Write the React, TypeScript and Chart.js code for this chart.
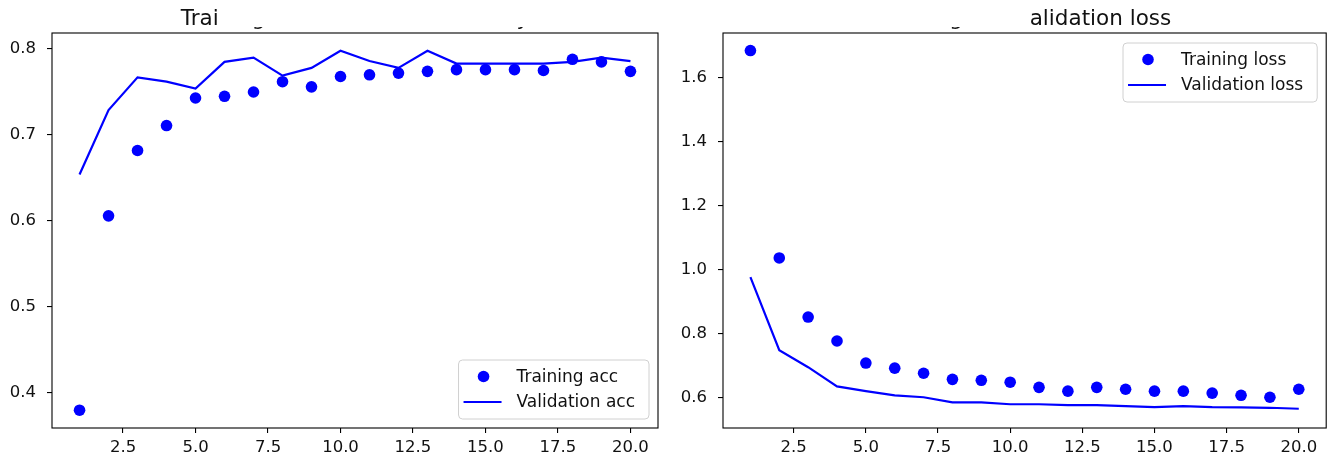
import React, { useEffect, useRef } from 'react';
import { Chart, registerables } from 'chart.js';

Chart.register(...registerables);

// ---------- data ----------
const epochs = [1, 2, 3, 4, 5, 6, 7, 8, 9, 10, 11, 12, 13, 14, 15, 16, 17, 18, 19, 20];

const trainingAcc = [0.380, 0.606, 0.682, 0.711, 0.743, 0.745, 0.750, 0.762, 0.756, 0.768,
  0.770, 0.772, 0.774, 0.776, 0.776, 0.776, 0.775, 0.788, 0.785, 0.774];
const validationAcc = [0.654, 0.729, 0.767, 0.762, 0.754, 0.785, 0.790, 0.769, 0.778, 0.798,
  0.786, 0.778, 0.798, 0.783, 0.783, 0.783, 0.783, 0.785, 0.790, 0.786];

const trainingLoss = [1.686, 1.037, 0.852, 0.777, 0.708, 0.692, 0.676, 0.657, 0.654, 0.648,
  0.632, 0.620, 0.632, 0.626, 0.620, 0.620, 0.614, 0.607, 0.601, 0.626];
const validationLoss = [0.977, 0.748, 0.695, 0.635, 0.620, 0.607, 0.601, 0.585, 0.585, 0.579,
  0.579, 0.576, 0.576, 0.573, 0.570, 0.573, 0.570, 0.569, 0.568, 0.565];

const epochTicks = [2.5, 5, 7.5, 10, 12.5, 15, 17.5, 20];
const accTicks = [0.4, 0.5, 0.6, 0.7, 0.8];
const lossTicks = [0.6, 0.8, 1.0, 1.2, 1.4, 1.6];

const accTitle = 'Training and validation accuracy';
const lossTitle = 'Training and validation loss';
const accLabels = ['Training acc', 'Validation acc'];
const lossLabels = ['Training loss', 'Validation loss'];

// ---------- style ----------
const FONT = '"DejaVu Sans", "Liberation Sans", sans-serif';
const TICK_SIZE = 16.5;
const LEGEND_SIZE = 17;
const TITLE_SIZE = 21.5;
const BLUE = '#0000ff';
const W = 666;
const H = 464;

const framePlugin = {
  id: 'mplFrame',
  afterDraw(chart: any) {
    const { ctx, chartArea: a } = chart;
    ctx.save();
    ctx.strokeStyle = '#000';
    ctx.lineWidth = 1.1;
    ctx.strokeRect(a.left, a.top, a.right - a.left, a.bottom - a.top);
    ctx.restore();
  },
};

const titlePlugin = {
  id: 'mplTitle',
  afterDraw(chart: any, _args: any, o: any) {
    const { ctx, chartArea: a } = chart;
    ctx.save();
    ctx.font = `${TITLE_SIZE}px ${FONT}`;
    ctx.fillStyle = '#111';
    ctx.textAlign = 'left';
    ctx.textBaseline = 'alphabetic';
    const w = ctx.measureText(o.text).width;
    const x0 = (a.left + a.right) / 2 - w / 2;
    ctx.fillText(o.text, x0, o.baseline);
    // part of the title is hidden behind a white patch in the reference
    ctx.fillStyle = '#fff';
    if (o.keepStart) {
      const cx = x0 + ctx.measureText(o.keepStart).width;
      ctx.fillRect(cx, 0, chart.width - cx, o.coverBottom);
    }
    if (o.hideStart) {
      const cx = x0 + ctx.measureText(o.hideStart).width;
      ctx.fillRect(0, 0, cx, o.coverBottom);
    }
    ctx.restore();
  },
};

const legendPlugin = {
  id: 'mplLegend',
  afterDraw(chart: any, _args: any, o: any) {
    const { ctx, chartArea: a } = chart;
    ctx.save();
    ctx.font = `${LEGEND_SIZE}px ${FONT}`;
    const tw = Math.max(...o.labels.map((l: string) => ctx.measureText(l).width));
    const bw = 58 + tw + 14;
    const bh = 59;
    const x0 = a.right - 9 - bw;
    const y0 = o.corner === 'upper' ? a.top + 10 : a.bottom - 9 - bh;
    ctx.beginPath();
    ctx.roundRect(x0, y0, bw, bh, 4);
    ctx.fillStyle = 'rgba(255,255,255,0.8)';
    ctx.fill();
    ctx.strokeStyle = '#d0d0d0';
    ctx.lineWidth = 1;
    ctx.stroke();
    const rows = [y0 + 16.5, y0 + 42];
    // dot entry
    ctx.fillStyle = BLUE;
    ctx.beginPath();
    ctx.arc(x0 + 25, rows[0], 5.8, 0, Math.PI * 2);
    ctx.fill();
    // line entry
    ctx.strokeStyle = BLUE;
    ctx.lineWidth = 2.2;
    ctx.beginPath();
    ctx.moveTo(x0 + 5, rows[1]);
    ctx.lineTo(x0 + 43, rows[1]);
    ctx.stroke();
    ctx.fillStyle = '#111';
    ctx.textAlign = 'left';
    ctx.textBaseline = 'middle';
    ctx.fillText(o.labels[0], x0 + 58, rows[0] + 1);
    ctx.fillText(o.labels[1], x0 + 58, rows[1] + 1);
    ctx.restore();
  },
};

function makeConfig(p: {
  train: number[]; val: number[]; labels: string[]; yTicks: number[];
  yMin: number; yMax: number; yWidth: number; padRight: number;
  title: string; keepStart?: string; hideStart?: string; corner: string;
}): any {
  const tickFont = { family: FONT, size: TICK_SIZE };
  return {
    type: 'scatter',
    data: {
      datasets: [
        {
          label: p.labels[0],
          data: epochs.map((e, i) => ({ x: e, y: p.train[i] })),
          showLine: false,
          pointRadius: 5.8,
          pointBorderWidth: 0,
          pointBackgroundColor: BLUE,
          pointBorderColor: BLUE,
        },
        {
          label: p.labels[1],
          data: epochs.map((e, i) => ({ x: e, y: p.val[i] })),
          showLine: true,
          pointRadius: 0,
          borderColor: BLUE,
          borderWidth: 2.2,
          tension: 0,
        },
      ],
    },
    options: {
      responsive: false,
      animation: false,
      devicePixelRatio: 1,
      layout: { padding: { left: 0, right: p.padRight, top: 33, bottom: 0 } },
      plugins: {
        legend: { display: false },
        tooltip: { enabled: false },
        title: { display: false },
        mplTitle: { text: p.title, baseline: 24.5, coverBottom: 27, keepStart: p.keepStart, hideStart: p.hideStart },
        mplLegend: { labels: p.labels, corner: p.corner },
      },
      scales: {
        x: {
          type: 'linear',
          min: 0.05,
          max: 20.95,
          grid: { drawOnChartArea: false, drawTicks: true, tickLength: 5, color: '#000', lineWidth: 1.1 },
          border: { display: false },
          ticks: {
            font: tickFont,
            color: '#111',
            padding: 5,
            maxRotation: 0,
            autoSkip: false,
            callback: (v: number) => v.toFixed(1),
          },
          afterBuildTicks: (s: any) => { s.ticks = epochTicks.map((v) => ({ value: v })); },
          afterFit: (s: any) => { s.height = 36; },
        },
        y: {
          type: 'linear',
          min: p.yMin,
          max: p.yMax,
          grid: { drawOnChartArea: false, drawTicks: true, tickLength: 5, color: '#000', lineWidth: 1.1 },
          border: { display: false },
          ticks: {
            font: tickFont,
            color: '#111',
            padding: 11,
            autoSkip: false,
            callback: (v: number) => v.toFixed(1),
          },
          afterBuildTicks: (s: any) => { s.ticks = p.yTicks.map((v) => ({ value: v })); },
          afterFit: (s: any) => { s.width = p.yWidth; },
        },
      },
    },
    plugins: [framePlugin, titlePlugin, legendPlugin],
  };
}

function Panel({ left, config }: { left: number; config: any }) {
  const ref = useRef<HTMLCanvasElement>(null);
  useEffect(() => {
    const chart = new Chart(ref.current as HTMLCanvasElement, config);
    return () => chart.destroy();
  }, []);
  return (
    <canvas
      ref={ref}
      width={W}
      height={H}
      style={{ position: 'absolute', left, top: 0, width: W, height: H }}
    />
  );
}

export default function App() {
  const accConfig = makeConfig({
    train: trainingAcc, val: validationAcc, labels: accLabels, yTicks: accTicks,
    yMin: 0.3593, yMax: 0.8186, yWidth: 52, padRight: 8,
    title: accTitle, keepStart: 'Trai', corner: 'lower',
  });
  const lossConfig = makeConfig({
    train: trainingLoss, val: validationLoss, labels: lossLabels, yTicks: lossTicks,
    yMin: 0.5047, yMax: 1.741, yWidth: 57, padRight: 3,
    title: lossTitle, hideStart: 'Training and v', corner: 'upper',
  });
  return (
    <div style={{ position: 'absolute', left: 0, top: 0, width: 1332, height: 464, background: '#fff', overflow: 'hidden' }}>
      <Panel left={0} config={accConfig} />
      <Panel left={666} config={lossConfig} />
    </div>
  );
}
